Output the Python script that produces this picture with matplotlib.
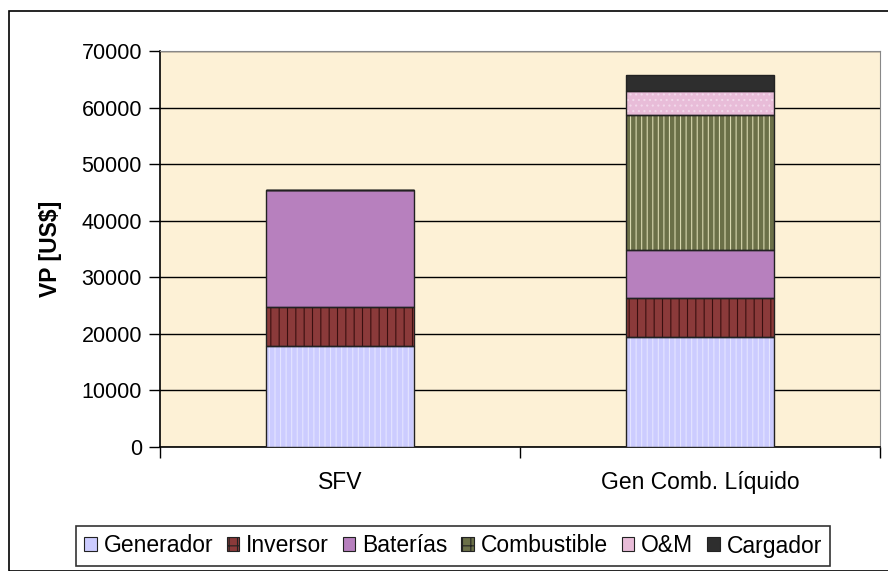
import matplotlib.pyplot as plt
import matplotlib.patches as mpatches
import numpy as np

plt.rcParams['font.family'] = ['Liberation Sans', 'DejaVu Sans']
plt.rcParams['hatch.linewidth'] = 0.8

categorias = ["SFV", "Gen Comb. Líquido"]
componentes = ["Generador", "Inversor", "Baterías", "Combustible", "O&M", "Cargador"]
generador = [17800, 19500]
inversor = [6900, 6900]
baterias = [20800, 8400]
combustible = [0, 23900]
oym = [0, 4200]
cargador = [0, 2900]

series = [generador, inversor, baterias, combustible, oym, cargador]
colores = ["#CCCCFF", "#8B3A3A", "#B780BE", "#6B7048", "#E8BCD8", "#2E2E2E"]
rayas = ["|||", "||", None, "|||", "...", None]
color_raya = ["#E4E4FF", "#3A1010", "#B780BE", "#D8D8B0", "#F2D8EA", "#2E2E2E"]

fig = plt.figure(figsize=(8.88, 5.71), dpi=100)
ax = fig.add_axes([160/888, 1-447/571, 720/888, 396/571])
ax.set_facecolor("#FDF1D6")

x = np.arange(len(categorias))
base = np.zeros(len(categorias))
for nombre, vals, c, h, hc in zip(componentes, series, colores, rayas, color_raya):
    vals = np.array(vals, dtype=float)
    ax.bar(x, vals, 0.41, bottom=base, color=c, hatch=h, edgecolor=hc, linewidth=0, zorder=3)
    ax.bar(x, vals, 0.41, bottom=base, fill=False, edgecolor="#222222", linewidth=1.0, zorder=4)
    base += vals

ax.set_xlim(-0.5, 1.5)
ax.set_ylim(0, 70000)
ax.set_yticks(range(0, 70001, 10000))
ax.yaxis.grid(True, color="black", linewidth=1.0, zorder=1)
ax.set_axisbelow(True)
ax.set_xticks(x)
ax.set_xticklabels(categorias, fontsize=16.5)
ax.set_xticks([-0.5, 0.5, 1.5], minor=True)
ax.tick_params(axis="x", which="major", length=0, pad=17)
ax.tick_params(axis="x", which="minor", length=8, width=1)
ax.tick_params(axis="y", labelsize=15.5, length=8, width=1, pad=5)
ax.set_ylabel("VP [US$]", fontsize=16.5, fontweight="bold", labelpad=14)
for s in ["top", "right"]:
    ax.spines[s].set_color("#888888")
for s in ["left", "bottom"]:
    ax.spines[s].set_color("black")
    ax.spines[s].set_linewidth(1.2)

handles = [mpatches.Patch(facecolor=c, hatch=h, edgecolor="#222222", linewidth=0.8)
           for c, h in zip(colores, [None, "++", None, "++", None, None])]
leg = fig.legend(handles, componentes, loc="center", bbox_to_anchor=(453/888, 1-546/571),
                 ncol=6, fontsize=16.5, frameon=True, fancybox=False, edgecolor="black",
                 handlelength=0.55, handleheight=0.55, handletextpad=0.3, columnspacing=0.6,
                 borderpad=0.35)
leg.get_frame().set_linewidth(1.2)

fig.patches.append(mpatches.Rectangle((9/888, 0), 1, 1-11/571, transform=fig.transFigure,
                                      fill=False, edgecolor="black", linewidth=1.2))

fig.savefig("out.png", dpi=100)
